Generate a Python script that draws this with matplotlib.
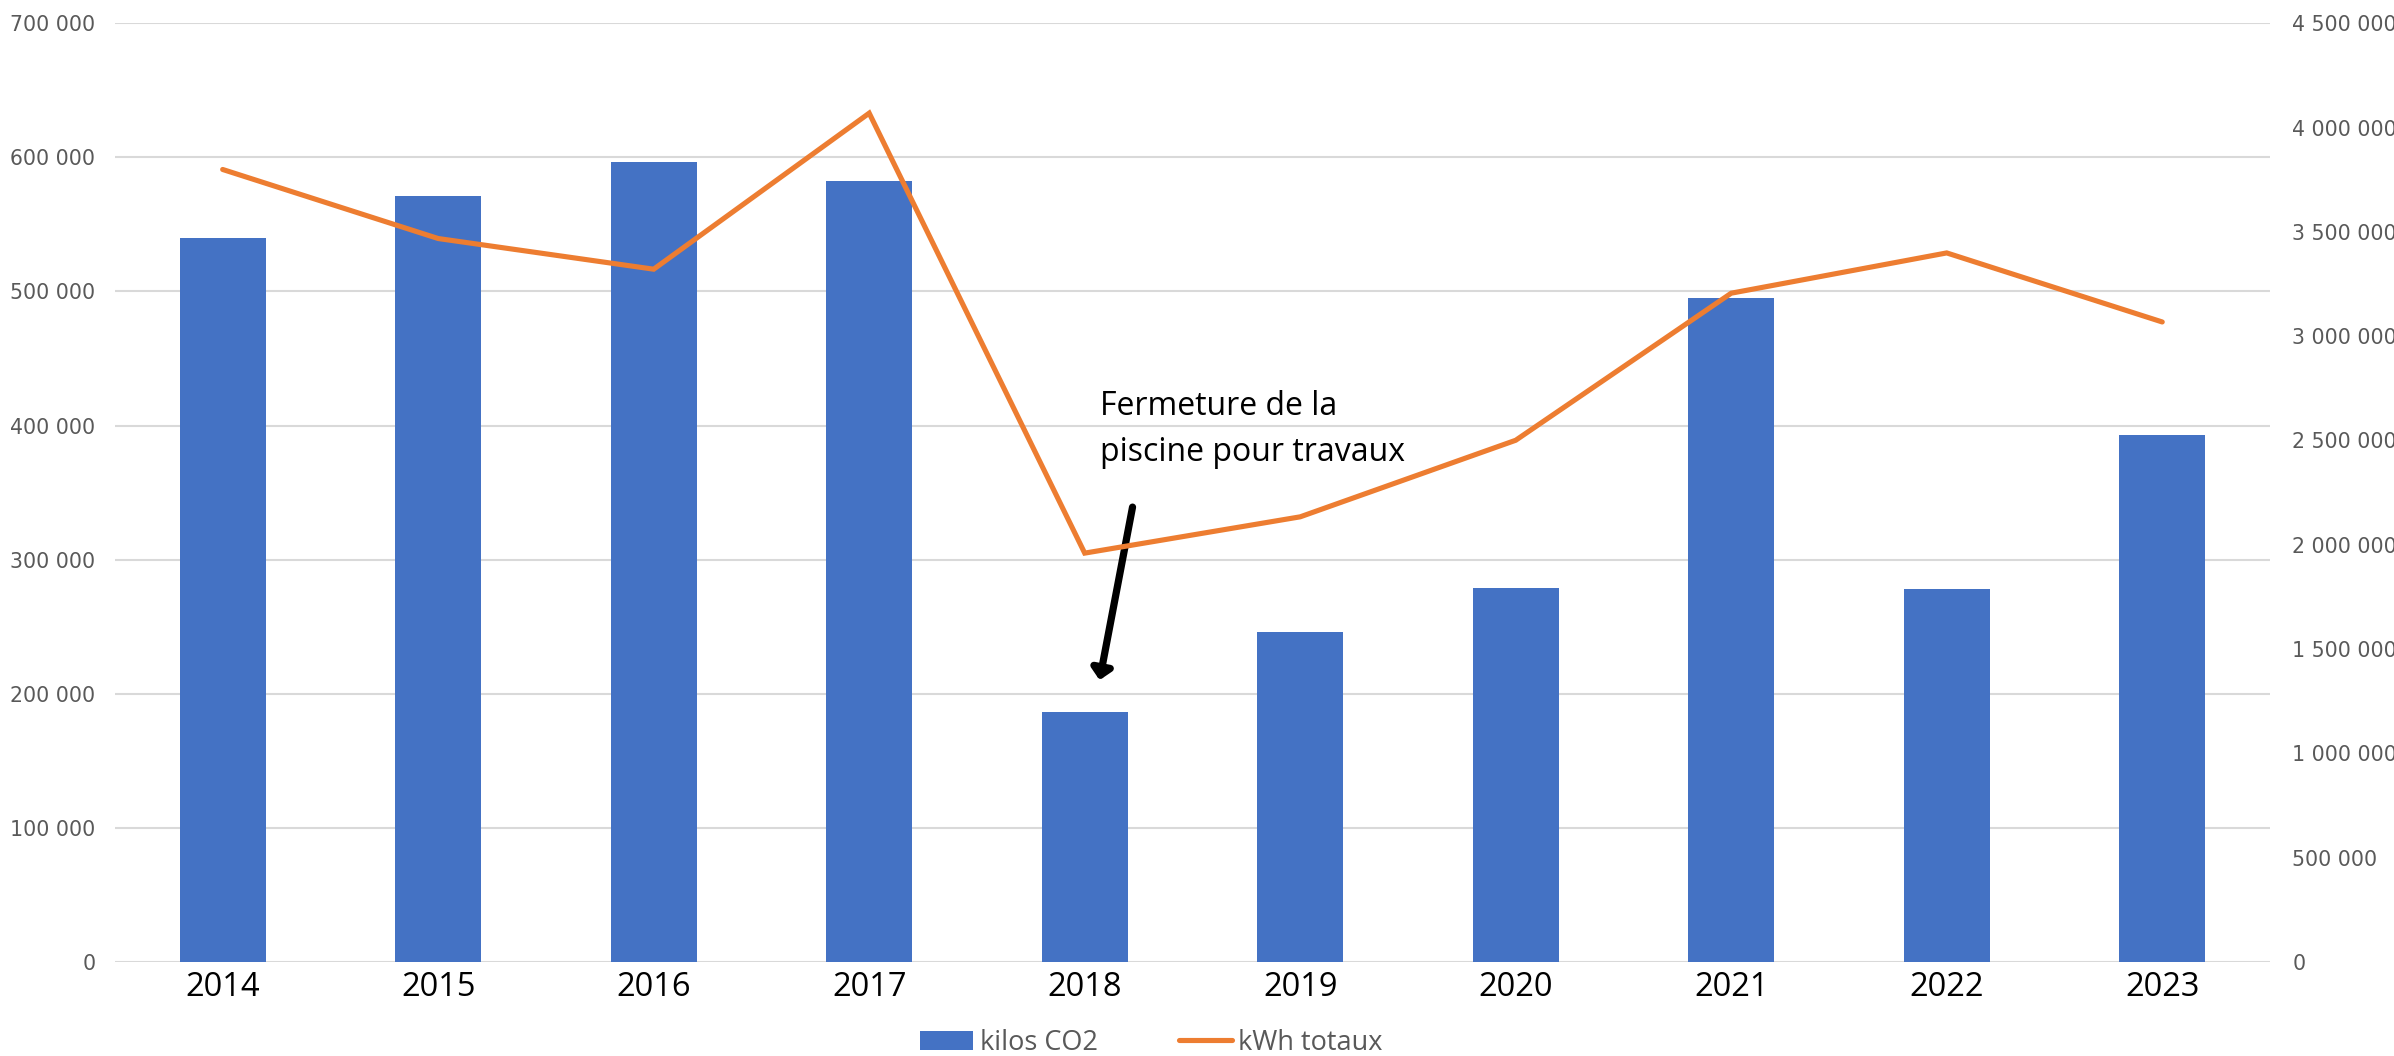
import matplotlib.pyplot as plt
from matplotlib.ticker import FuncFormatter, MultipleLocator

# --- data ---
years = [2014, 2015, 2016, 2017, 2018, 2019, 2020, 2021, 2022, 2023]
co2_kg = [540000, 571500, 596600, 582700, 186500, 246000, 278800, 495000, 277800, 392800]
kwh_total = [3799000, 3468000, 3321000, 4069000, 1960000, 2134000, 2501000,
             3206000, 3399000, 3068000]

BLUE = "#4472C4"
ORANGE = "#ED7D31"
GRID = "#D9D9D9"
TICK_GREY = "#595959"


def _fmt_space(v, _pos=None):
    return f"{int(round(v)):,}".replace(",", " ")


fig = plt.figure(figsize=(23.94, 10.56), dpi=100)
ax = fig.add_axes([0.048, 0.089, 0.9002, 0.889])
ax2 = ax.twinx()

x = list(range(len(years)))
ax.bar(x, co2_kg, width=0.4, color=BLUE, zorder=2, label="kilos CO2")
line, = ax2.plot(x, kwh_total, color=ORANGE, lw=3.7, solid_capstyle="round",
                 solid_joinstyle="miter", label="kWh totaux")

ax.set_xlim(-0.5, len(years) - 0.5)
ax.set_ylim(0, 700000)
ax2.set_ylim(0, 4500000)
ax.yaxis.set_major_locator(MultipleLocator(100000))
ax2.yaxis.set_major_locator(MultipleLocator(500000))
ax.yaxis.set_major_formatter(FuncFormatter(_fmt_space))
ax2.yaxis.set_major_formatter(FuncFormatter(_fmt_space))

ax.grid(axis="y", color=GRID, lw=1.5, zorder=0)
ax.set_axisbelow(True)
for a in (ax, ax2):
    for s in a.spines.values():
        s.set_visible(False)

ax.set_xticks(x)
ax.set_xticklabels([str(y) for y in years], family="Open Sans",
                   fontsize=23.5, color="black")
ax.tick_params(axis="x", length=0, pad=6.5)
ax.tick_params(axis="y", length=0, pad=14, labelsize=14.8, labelcolor=TICK_GREY)
ax2.tick_params(axis="y", length=0, pad=16, labelsize=14.8, labelcolor=TICK_GREY)

# annotation on 2018
ax.text(4.069, 426500, "Fermeture de la\npiscine pour travaux", family="Open Sans",
        fontsize=23, color="black", ha="left", va="top", linespacing=1.5, zorder=5)
ax.annotate("", xy=(4.069, 210200), xytext=(4.222, 339200),
            arrowprops=dict(arrowstyle="-|>,head_length=0.3,head_width=0.3",
                            color="black", lw=5.2, shrinkA=0, shrinkB=0,
                            mutation_scale=20),
            zorder=6)

handles = [ax.containers[0], line]
fig.legend(handles, ["kilos CO2", "kWh totaux"], loc="center",
           bbox_to_anchor=(0.481, 0.0125), ncol=2, frameon=False,
           prop={"family": "Open Sans", "size": 19.5}, labelcolor=TICK_GREY,
           handlelength=1.95, handletextpad=0.25, columnspacing=3.0,
           borderpad=0, borderaxespad=0)

fig.savefig("out.png", dpi=100)
